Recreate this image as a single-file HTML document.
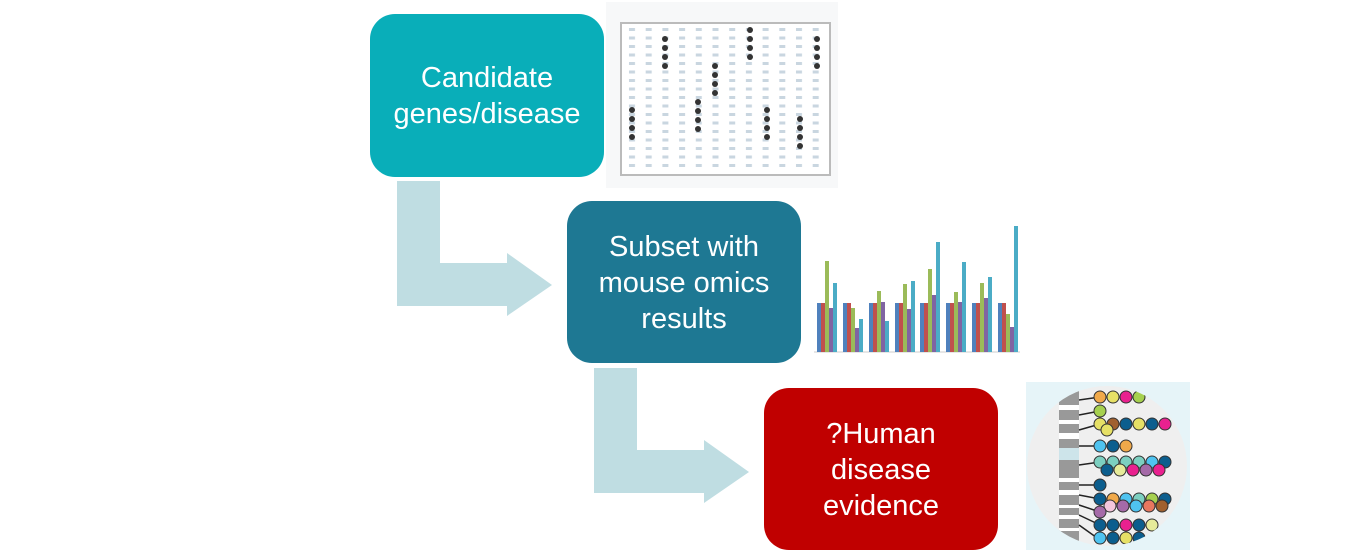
<!DOCTYPE html>
<html><head><meta charset="utf-8"><style>
html,body{margin:0;padding:0;background:#fff;}
svg{display:block;}
text{font-family:"Liberation Sans",sans-serif;fill:#fff;font-size:29px;text-anchor:middle;}
</style></head><body>
<svg width="1368" height="556" viewBox="0 0 1368 556" xmlns="http://www.w3.org/2000/svg">
<defs>
<pattern id="g" x="628" y="25" width="16.7" height="8.5" patternUnits="userSpaceOnUse">
<rect x="1" y="3" width="6" height="3" fill="#c9d6e0"/>
</pattern>
<clipPath id="c"><circle cx="1107" cy="466" r="80"/></clipPath>
</defs>
<path d="M397 181 H440 V263 H507 V253 L552 285 L507 316 V306 H397 Z" fill="#bfdde2"/>
<path d="M594 368 H637 V450 H704 V440 L749 472 L704 503 V493 H594 Z" fill="#bfdde2"/>
<rect x="370" y="14" width="234" height="163" rx="25" fill="#09aeb9"/>
<text x="487" y="87">Candidate</text><text x="487" y="123">genes/disease</text>
<rect x="567" y="201" width="234" height="162" rx="25" fill="#1e7893"/>
<text x="684" y="256">Subset with</text><text x="684" y="292">mouse omics</text><text x="684" y="328">results</text>
<rect x="764" y="388" width="234" height="162" rx="25" fill="#c00000"/>
<text x="881" y="443">?Human</text><text x="881" y="479">disease</text><text x="881" y="515">evidence</text>
<rect x="606" y="2" width="232" height="186" fill="#f7f8f9"/>
<rect x="621" y="23" width="209" height="152" fill="#fff" stroke="#bbb" stroke-width="2"/>
<rect x="624" y="26" width="204" height="146" fill="url(#g)"/>
<g fill="#333">
<circle cx="632" cy="110" r="3"/><circle cx="632" cy="119" r="3"/><circle cx="632" cy="128" r="3"/><circle cx="632" cy="137" r="3"/>
<circle cx="665" cy="39" r="3"/><circle cx="665" cy="48" r="3"/><circle cx="665" cy="57" r="3"/><circle cx="665" cy="66" r="3"/>
<circle cx="698" cy="102" r="3"/><circle cx="698" cy="111" r="3"/><circle cx="698" cy="120" r="3"/><circle cx="698" cy="129" r="3"/>
<circle cx="715" cy="66" r="3"/><circle cx="715" cy="75" r="3"/><circle cx="715" cy="84" r="3"/><circle cx="715" cy="93" r="3"/>
<circle cx="750" cy="30" r="3"/><circle cx="750" cy="39" r="3"/><circle cx="750" cy="48" r="3"/><circle cx="750" cy="57" r="3"/>
<circle cx="767" cy="110" r="3"/><circle cx="767" cy="119" r="3"/><circle cx="767" cy="128" r="3"/><circle cx="767" cy="137" r="3"/>
<circle cx="800" cy="119" r="3"/><circle cx="800" cy="128" r="3"/><circle cx="800" cy="137" r="3"/><circle cx="800" cy="146" r="3"/>
<circle cx="817" cy="39" r="3"/><circle cx="817" cy="48" r="3"/><circle cx="817" cy="57" r="3"/><circle cx="817" cy="66" r="3"/>
</g>
<g>
<line x1="814" y1="352" x2="1020" y2="352" stroke="#ccc"/>
<g transform="translate(817,0)"><rect x="0" y="303" width="4" height="49" fill="#4f81bd"/><rect x="4" y="303" width="4" height="49" fill="#c0504d"/><rect x="8" y="261" width="4" height="91" fill="#9bbb59"/><rect x="12" y="308" width="4" height="44" fill="#8064a2"/><rect x="16" y="283" width="4" height="69" fill="#4bacc6"/></g>
<g transform="translate(843,0)"><rect x="0" y="303" width="4" height="49" fill="#4f81bd"/><rect x="4" y="303" width="4" height="49" fill="#c0504d"/><rect x="8" y="308" width="4" height="44" fill="#9bbb59"/><rect x="12" y="328" width="4" height="24" fill="#8064a2"/><rect x="16" y="319" width="4" height="33" fill="#4bacc6"/></g>
<g transform="translate(869,0)"><rect x="0" y="303" width="4" height="49" fill="#4f81bd"/><rect x="4" y="303" width="4" height="49" fill="#c0504d"/><rect x="8" y="291" width="4" height="61" fill="#9bbb59"/><rect x="12" y="302" width="4" height="50" fill="#8064a2"/><rect x="16" y="321" width="4" height="31" fill="#4bacc6"/></g>
<g transform="translate(895,0)"><rect x="0" y="303" width="4" height="49" fill="#4f81bd"/><rect x="4" y="303" width="4" height="49" fill="#c0504d"/><rect x="8" y="284" width="4" height="68" fill="#9bbb59"/><rect x="12" y="309" width="4" height="43" fill="#8064a2"/><rect x="16" y="281" width="4" height="71" fill="#4bacc6"/></g>
<g transform="translate(920,0)"><rect x="0" y="303" width="4" height="49" fill="#4f81bd"/><rect x="4" y="303" width="4" height="49" fill="#c0504d"/><rect x="8" y="269" width="4" height="83" fill="#9bbb59"/><rect x="12" y="295" width="4" height="57" fill="#8064a2"/><rect x="16" y="242" width="4" height="110" fill="#4bacc6"/></g>
<g transform="translate(946,0)"><rect x="0" y="303" width="4" height="49" fill="#4f81bd"/><rect x="4" y="303" width="4" height="49" fill="#c0504d"/><rect x="8" y="292" width="4" height="60" fill="#9bbb59"/><rect x="12" y="302" width="4" height="50" fill="#8064a2"/><rect x="16" y="262" width="4" height="90" fill="#4bacc6"/></g>
<g transform="translate(972,0)"><rect x="0" y="303" width="4" height="49" fill="#4f81bd"/><rect x="4" y="303" width="4" height="49" fill="#c0504d"/><rect x="8" y="283" width="4" height="69" fill="#9bbb59"/><rect x="12" y="298" width="4" height="54" fill="#8064a2"/><rect x="16" y="277" width="4" height="75" fill="#4bacc6"/></g>
<g transform="translate(998,0)"><rect x="0" y="303" width="4" height="49" fill="#4f81bd"/><rect x="4" y="303" width="4" height="49" fill="#c0504d"/><rect x="8" y="314" width="4" height="38" fill="#9bbb59"/><rect x="12" y="327" width="4" height="25" fill="#8064a2"/><rect x="16" y="226" width="4" height="126" fill="#4bacc6"/></g>
</g>
<rect x="1026" y="382" width="164" height="168" fill="#e6f4f8"/>
<circle cx="1107" cy="466" r="80" fill="#efefef"/>
<g clip-path="url(#c)">
<rect x="1059" y="380" width="20" height="180" fill="#999"/>
<g fill="#fff"><rect x="1059" y="405" width="20" height="5"/><rect x="1059" y="420" width="20" height="4"/><rect x="1059" y="433" width="20" height="6"/><rect x="1059" y="478" width="20" height="4"/><rect x="1059" y="490" width="20" height="5"/><rect x="1059" y="505" width="20" height="3"/><rect x="1059" y="515" width="20" height="4"/><rect x="1059" y="528" width="20" height="3"/></g>
<rect x="1059" y="448" width="20" height="12" fill="#cde4ea"/>
<g stroke="#222" stroke-width="1.5">
<line x1="1079" y1="400" x2="1100" y2="397"/><line x1="1079" y1="415" x2="1100" y2="411"/><line x1="1079" y1="430" x2="1100" y2="424"/><line x1="1079" y1="446" x2="1100" y2="446"/><line x1="1079" y1="465" x2="1100" y2="462"/><line x1="1079" y1="485" x2="1100" y2="485"/><line x1="1079" y1="495" x2="1100" y2="499"/><line x1="1079" y1="505" x2="1100" y2="512"/><line x1="1079" y1="515" x2="1100" y2="525"/><line x1="1079" y1="525" x2="1100" y2="540"/>
</g>
<g stroke="#333" stroke-width="1">
<circle cx="1100" cy="397" r="6" fill="#f0a94a"/><circle cx="1113" cy="397" r="6" fill="#e6e066"/><circle cx="1126" cy="397" r="6" fill="#e9218f"/><circle cx="1139" cy="397" r="6" fill="#a6d04f"/>
<circle cx="1100" cy="411" r="6" fill="#a6d04f"/>
<circle cx="1100" cy="424" r="6" fill="#e6e066"/><circle cx="1113" cy="424" r="6" fill="#a0602e"/><circle cx="1126" cy="424" r="6" fill="#0c5e8e"/><circle cx="1139" cy="424" r="6" fill="#e6e066"/><circle cx="1152" cy="424" r="6" fill="#0c5e8e"/><circle cx="1165" cy="424" r="6" fill="#e9218f"/><circle cx="1107" cy="430" r="6" fill="#e6e066"/>
<circle cx="1100" cy="446" r="6" fill="#4fc3f0"/><circle cx="1113" cy="446" r="6" fill="#0c5e8e"/><circle cx="1126" cy="446" r="6" fill="#f0a94a"/>
<circle cx="1100" cy="462" r="6" fill="#7ccfc0"/><circle cx="1113" cy="462" r="6" fill="#7ccfc0"/><circle cx="1126" cy="462" r="6" fill="#7ccfc0"/><circle cx="1139" cy="462" r="6" fill="#7ccfc0"/><circle cx="1152" cy="462" r="6" fill="#4fc3f0"/><circle cx="1165" cy="462" r="6" fill="#0c5e8e"/>
<circle cx="1107" cy="470" r="6" fill="#0c5e8e"/><circle cx="1120" cy="470" r="6" fill="#e6eb9a"/><circle cx="1133" cy="470" r="6" fill="#e9218f"/><circle cx="1146" cy="470" r="6" fill="#a56aa8"/><circle cx="1159" cy="470" r="6" fill="#e9218f"/>
<circle cx="1100" cy="485" r="6" fill="#0c5e8e"/>
<circle cx="1100" cy="499" r="6" fill="#0c5e8e"/><circle cx="1113" cy="499" r="6" fill="#f0a94a"/><circle cx="1126" cy="499" r="6" fill="#4fc3f0"/><circle cx="1139" cy="499" r="6" fill="#7ccfc0"/><circle cx="1152" cy="499" r="6" fill="#a6d04f"/><circle cx="1165" cy="499" r="6" fill="#0c5e8e"/>
<circle cx="1110" cy="506" r="6" fill="#f4c6dc"/><circle cx="1123" cy="506" r="6" fill="#a56aa8"/><circle cx="1136" cy="506" r="6" fill="#4fc3f0"/><circle cx="1149" cy="506" r="6" fill="#e8775f"/><circle cx="1162" cy="506" r="6" fill="#a0602e"/><circle cx="1100" cy="512" r="6" fill="#a56aa8"/>
<circle cx="1100" cy="525" r="6" fill="#0c5e8e"/><circle cx="1113" cy="525" r="6" fill="#0c5e8e"/><circle cx="1126" cy="525" r="6" fill="#e9218f"/><circle cx="1139" cy="525" r="6" fill="#0c5e8e"/><circle cx="1152" cy="525" r="6" fill="#e6eb9a"/>
<circle cx="1100" cy="538" r="6" fill="#4fc3f0"/><circle cx="1113" cy="538" r="6" fill="#0c5e8e"/><circle cx="1126" cy="538" r="6" fill="#e6e066"/><circle cx="1139" cy="538" r="6" fill="#0c5e8e"/>
</g>
</g>
</svg>
</body></html>
